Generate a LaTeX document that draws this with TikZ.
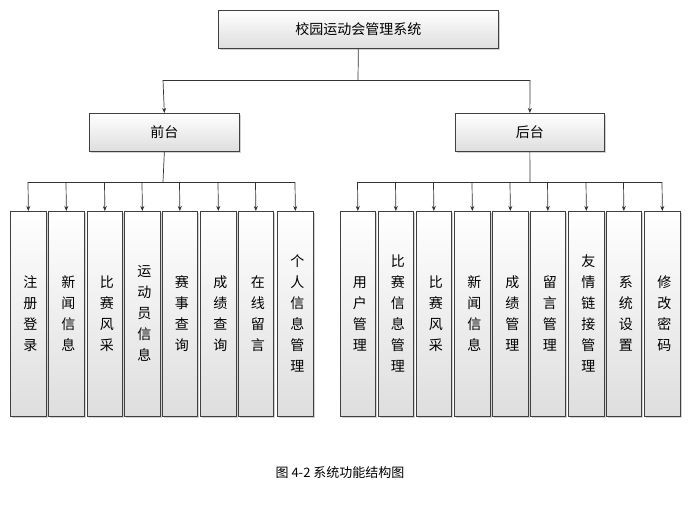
\documentclass[tikz,border=0pt]{standalone}
\usepackage{fontspec}
\setmainfont{Noto Sans CJK SC}
\usetikzlibrary{arrows.meta,shadows}
\begin{document}
\begin{tikzpicture}[x=1pt,y=-1pt,
 box/.style={draw=black!75,line width=0.7pt,top color=white,bottom color=black!13,drop shadow={shadow xshift=1.2pt,shadow yshift=-1.2pt,opacity=0.35},inner sep=0pt},
 ln/.style={draw=black!80,line width=0.7pt},
 ar/.style={ln,-{Stealth[length=5pt,width=4pt]}}]
\useasboundingbox (0,0) rectangle (695,514);
\fill[white] (0,0) rectangle (695,514);
\newcommand{\bx}[6]{\node[box,minimum width=#3-#2,minimum height=#5-#4,anchor=north west] (#1) at (#2,#4) {#6};}
\bx{top}{218}{498}{10}{48}{\fontsize{14}{16}\selectfont 校园运动会管理系统}
\bx{qt}{89}{239}{113}{151}{\fontsize{14}{16}\selectfont 前台}
\bx{ht}{455}{604}{113}{151}{\fontsize{14}{16}\selectfont 后台}
\coordinate (b0) at (358,80);
\draw[ln] (top.south) -- (b0);
\draw[ln] (163,80) -- (530,80);
\draw[ar] (163,80) -- (qt.north);
\draw[ar] (530,80) -- (ht.north);
\draw[ln] (qt.south) -- (163,182);
\draw[ln] (ht.south) -- (530,182);
\draw[ln] (28,182) -- (295,182);
\draw[ln] (357,182) -- (662,182);
\newcommand{\leaf}[4]{%
 \bx{#1}{#2}{#3}{211}{416}{\parbox{10pt}{\centering\fontsize{14}{21}\selectfont #4}}
 \draw[ar] ({(#2+#3)/2},182) -- (#1.north);}
\leaf{l1}{10}{46}{注\\册\\登\\录}
\leaf{l2}{48}{84}{新\\闻\\信\\息}
\leaf{l3}{87}{122}{比\\赛\\风\\采}
\leaf{l4}{124}{160}{运\\动\\员\\信\\息}
\leaf{l5}{162}{197}{赛\\事\\查\\询}
\leaf{l6}{200}{236}{成\\绩\\查\\询}
\leaf{l7}{238}{273}{在\\线\\留\\言}
\leaf{l8}{277}{313}{个\\人\\信\\息\\管\\理}
\leaf{r1}{340}{375}{用\\户\\管\\理}
\leaf{r2}{378}{413}{比\\赛\\信\\息\\管\\理}
\leaf{r3}{416}{451}{比\\赛\\风\\采}
\leaf{r4}{454}{490}{新\\闻\\信\\息}
\leaf{r5}{492}{528}{成\\绩\\管\\理}
\leaf{r6}{530}{565}{留\\言\\管\\理}
\leaf{r7}{568}{604}{友\\情\\链\\接\\管\\理}
\leaf{r8}{606}{641}{系\\统\\设\\置}
\leaf{r9}{644}{680}{修\\改\\密\\码}
\node (cap) at (340,473) {\fontsize{13}{15}\selectfont 图 4-2 系统功能结构图};
\end{tikzpicture}
\end{document}
